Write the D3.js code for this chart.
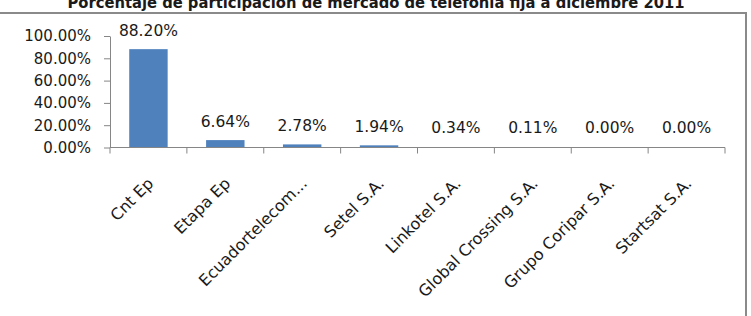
<!DOCTYPE html>
<html>
<head>
<meta charset="utf-8">
<script src="https://cdn.jsdelivr.net/npm/d3@7"></script>
<style>
  body { margin: 0; background: #fff; }
  text { font-family: "DejaVu Sans", sans-serif; fill: #1a1a1a; }
</style>
</head>
<body>
<div id="vis"></div>
<script>
// Chart data
const TITLE = "Porcentaje de participación de mercado de telefonía fija a diciembre 2011";
const COMPANIES = ["Cnt Ep", "Etapa Ep", "Ecuadortelecom...", "Setel S.A.", "Linkotel S.A.",
                   "Global Crossing S.A.", "Grupo Coripar S.A.", "Startsat S.A."];
const SHARES = [88.20, 6.64, 2.78, 1.94, 0.34, 0.11, 0.00, 0.00];
const Y_TICKS = [0, 20, 40, 60, 80, 100];

// Frame constants
const FRAME_WIDTH = 751;
const FRAME_HEIGHT = 316;
const PLOT = {left: 110, right: 725, top: 36, bottom: 147.5};

const FRAME = d3.select("#vis")
                .append("svg")
                  .attr("width", FRAME_WIDTH)
                  .attr("height", FRAME_HEIGHT);

// Chart border (top and right only visible)
FRAME.append("path")
     .attr("d", "M0,13 H746 V" + FRAME_HEIGHT)
     .attr("fill", "none")
     .attr("stroke", "#8a8a8a")
     .attr("stroke-width", 2);

// Title, partly cut at top
FRAME.append("text")
     .attr("x", 376)
     .attr("y", 7.5)
     .attr("text-anchor", "middle")
     .attr("font-size", "15px")
     .attr("font-weight", "bold")
     .attr("textLength", 617)
     .attr("lengthAdjust", "spacingAndGlyphs")
     .text(TITLE);

// Scales
const X_SCALE = d3.scaleBand()
                  .domain(COMPANIES)
                  .range([PLOT.left, PLOT.right])
                  .paddingInner(0.5)
                  .paddingOuter(0.25);

const Y_SCALE = d3.scaleLinear()
                  .domain([0, 100])
                  .range([PLOT.bottom, PLOT.top]);

// Bars
FRAME.selectAll(".bar")
     .data(SHARES)
     .enter()
     .append("rect")
       .attr("class", "bar")
       .attr("x", (d, i) => X_SCALE(COMPANIES[i]))
       .attr("y", (d) => Y_SCALE(d))
       .attr("width", X_SCALE.bandwidth())
       .attr("height", (d) => Y_SCALE(0) - Y_SCALE(d))
       .attr("fill", "#4f81bd");

// Y axis
const yAxis = FRAME.append("g")
     .attr("transform", "translate(" + PLOT.left + ",0)")
     .call(d3.axisLeft(Y_SCALE)
             .tickValues(Y_TICKS)
             .tickFormat((d) => d.toFixed(2) + "%")
             .tickSize(6)
             .tickSizeOuter(0)
             .tickPadding(13));
yAxis.selectAll("path, line").attr("stroke", "#868686");
yAxis.selectAll("text")
     .attr("font-size", "15px")
     .attr("font-family", "'DejaVu Sans', sans-serif")
     .attr("fill", "#1a1a1a");

// X axis line and category boundary ticks
const BOUNDS = d3.scaleLinear().domain([0, COMPANIES.length]).range([PLOT.left, PLOT.right]);
FRAME.append("line")
     .attr("x1", PLOT.left).attr("x2", PLOT.right)
     .attr("y1", Y_SCALE(0)).attr("y2", Y_SCALE(0))
     .attr("stroke", "#868686");
FRAME.selectAll(".xtick")
     .data(d3.range(COMPANIES.length + 1))
     .enter()
     .append("line")
       .attr("class", "xtick")
       .attr("x1", (d) => BOUNDS(d)).attr("x2", (d) => BOUNDS(d))
       .attr("y1", Y_SCALE(0)).attr("y2", Y_SCALE(0) + 6)
       .attr("stroke", "#868686");

// Category labels, rotated
FRAME.selectAll(".xlabel")
     .data(COMPANIES)
     .enter()
     .append("text")
       .attr("class", "xlabel")
       .attr("text-anchor", "end")
       .attr("font-size", "16px")
       .attr("transform", (d) => "translate(" + (X_SCALE(d) + X_SCALE.bandwidth() / 2 + 6) +
                                 "," + (Y_SCALE(0) + 37) + ") rotate(-45)")
       .text((d) => d);

// Value labels
FRAME.selectAll(".vlabel")
     .data(SHARES)
     .enter()
     .append("text")
       .attr("class", "vlabel")
       .attr("text-anchor", "middle")
       .attr("font-size", "15.5px")
       .attr("x", (d, i) => X_SCALE(COMPANIES[i]) + X_SCALE.bandwidth() / 2)
       .attr("y", (d) => Math.min(Y_SCALE(d) - 13, Y_SCALE(0) - 15))
       .text((d) => d.toFixed(2) + "%");
</script>
</body>
</html>
